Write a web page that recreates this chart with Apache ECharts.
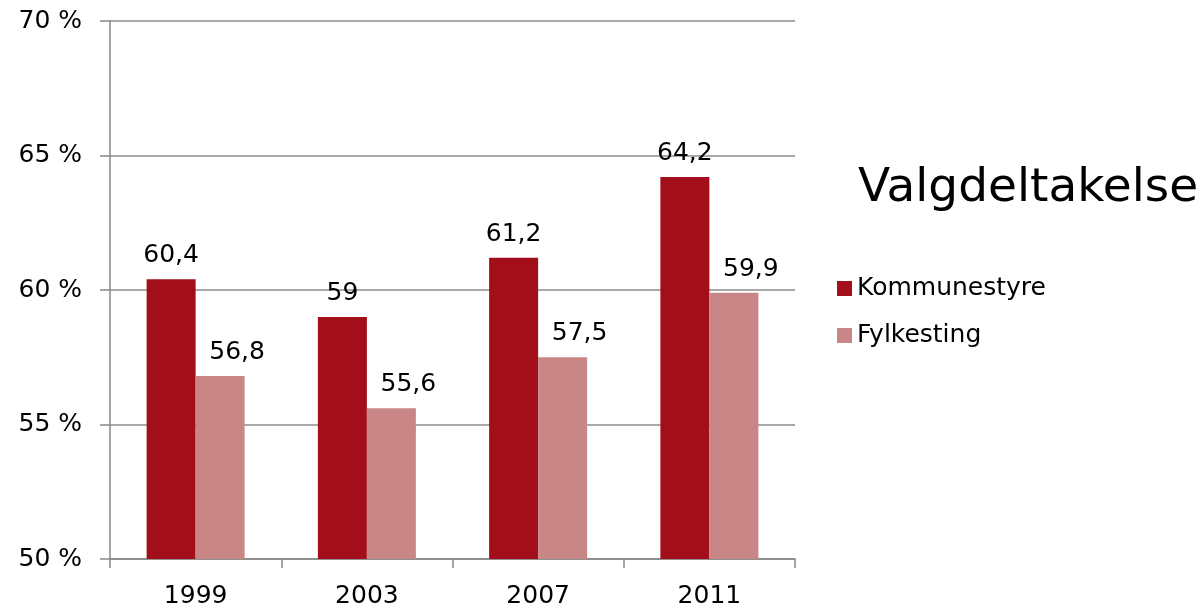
<!DOCTYPE html>
<html>
<head>
<meta charset="utf-8">
<script src="https://cdn.jsdelivr.net/npm/echarts@6/dist/echarts.min.js"></script>
<style>
html,body{margin:0;padding:0;background:#fff;}
#main{width:1204px;height:609px;}
</style>
</head>
<body>
<div id="main"></div>
<script>
const categories = ['1999', '2003', '2007', '2011'];
const kommunestyre = [60.4, 59, 61.2, 64.2];
const fylkesting = [56.8, 55.6, 57.5, 59.9];
const seriesNames = ['Kommunestyre', 'Fylkesting'];
const titleText = 'Valgdeltakelse';

const FONT = 'DejaVu Sans';
const fmt = v => String(v).replace('.', ',');
const chart = echarts.init(document.getElementById('main'), null, {renderer: 'canvas'});
const labelCfg = {
  show: true, position: 'top', distance: 11,
  fontFamily: FONT, fontSize: 25, color: '#000',
  formatter: p => fmt(p.value)
};
chart.setOption({
  animation: false,
  backgroundColor: '#fff',
  title: {
    text: titleText, left: 853, top: 160,
    textStyle: {fontFamily: FONT, fontSize: 47, fontWeight: 'normal', color: '#000'}
  },
  legend: {
    orient: 'vertical', left: 832, top: 271,
    itemWidth: 15, itemHeight: 15, itemGap: 22,
    icon: 'rect',
    textStyle: {fontFamily: FONT, fontSize: 25, color: '#000'},
    data: seriesNames
  },
  grid: {left: 110, right: 409, top: 21, bottom: 49, containLabel: false},
  xAxis: {
    type: 'category', data: categories,
    axisLine: {show: true, lineStyle: {color: '#888', width: 1.5}},
    axisTick: {show: true, length: 9, lineStyle: {color: '#888', width: 1.5}},
    axisLabel: {fontFamily: FONT, fontSize: 25, color: '#000', margin: 25}
  },
  yAxis: {
    type: 'value', min: 50, max: 70, interval: 5,
    axisLine: {show: true, lineStyle: {color: '#888', width: 1.5}},
    axisTick: {show: true, length: 10, lineStyle: {color: '#888', width: 1.5}},
    splitLine: {show: true, lineStyle: {color: '#8c8c8c', width: 1.5}},
    axisLabel: {fontFamily: FONT, fontSize: 25, color: '#000', margin: 28, formatter: '{value} %'}
  },
  series: [
    {name: seriesNames[0], type: 'bar', data: kommunestyre, barWidth: 49, barGap: '0%',
     itemStyle: {color: '#A20F1A'}, label: labelCfg},
    {name: seriesNames[1], type: 'bar', data: fylkesting, barWidth: 49, barGap: '0%',
     itemStyle: {color: '#C98686'}, label: Object.assign({}, labelCfg, {offset: [17, 0]})}
  ]
});
</script>
</body>
</html>
